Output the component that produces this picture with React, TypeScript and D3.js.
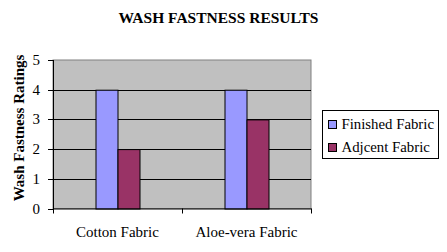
import React from "react";
import * as d3 from "d3";

const categories = ["Cotton Fabric", "Aloe-vera Fabric"];
const seriesNames = ["Finished Fabric", "Adjcent Fabric"];
const finishedValues = [4, 4];
const adjacentValues = [2, 3];
const yTicks = [0, 1, 2, 3, 4, 5];
const colors = ["#9999FF", "#993366"];

export default function App() {
  const W = 447, H = 252;
  const left = 53, right = 311, top = 60, bottom = 208.5;
  const x = d3.scaleBand<string>().domain(categories).range([left, right]);
  const y = d3.scaleLinear().domain([0, 5]).range([bottom, top]);
  const barW = 22;
  const series = [finishedValues, adjacentValues];
  const font = "'Liberation Serif', 'Times New Roman', serif";

  return (
    <div style={{ position: "absolute", left: 0, top: 0 }}>
      <svg width={W} height={H} style={{ display: "block", fontFamily: font }}>
        <rect x={0} y={0} width={W} height={H} fill="#fff" />
        <text x={218.5} y={23} textAnchor="middle" fontWeight="bold" fontSize={15.5}>
          WASH FASTNESS RESULTS
        </text>
        <rect x={left} y={top} width={right - left} height={bottom - top} fill="#C0C0C0" stroke="#808080" strokeWidth={1} />
        {yTicks.filter((t) => t > 0 && t < 5).map((t) => (
          <line key={t} x1={left} x2={right} y1={Math.round(y(t)) + 0.5} y2={Math.round(y(t)) + 0.5} stroke="#000" />
        ))}
        {series.map((vals, si) =>
          vals.map((v, ci) => {
            const cx = x(categories[ci])! + x.bandwidth() / 2;
            const bx = cx - barW + si * barW;
            return (
              <rect key={`${si}-${ci}`} x={bx + 0.5} y={y(v) + 0.5} width={barW} height={bottom - y(v)} fill={colors[si]} stroke="#000" strokeWidth={1} />
            );
          })
        )}
        <line x1={left + 0.5} x2={left + 0.5} y1={top} y2={bottom + 0.5} stroke="#000" />
        {yTicks.map((t) => (
          <g key={t}>
            <line x1={48} x2={left} y1={Math.round(y(t)) + 0.5} y2={Math.round(y(t)) + 0.5} stroke="#000" />
            <text x={40} y={y(t) + 5} textAnchor="end" fontSize={15}>{t}</text>
          </g>
        ))}
        <line x1={left} x2={right + 0.5} y1={bottom + 0.5} y2={bottom + 0.5} stroke="#000" />
        {[left, left + x.bandwidth(), right].map((tx, i) => (
          <line key={i} x1={Math.round(tx) + 0.5} x2={Math.round(tx) + 0.5} y1={bottom} y2={bottom + 5} stroke="#000" />
        ))}
        {categories.map((c) => (
          <text key={c} x={x(c)! + x.bandwidth() / 2} y={236.5} textAnchor="middle" fontSize={15}>{c}</text>
        ))}
        <text transform={`translate(24,128) rotate(-90)`} textAnchor="middle" fontWeight="bold" fontSize={15}>
          Wash Fastness Ratings
        </text>
        <rect x={322.5} y={110.5} width={116} height={48} fill="#fff" stroke="#000" />
        {seriesNames.map((n, i) => (
          <g key={n}>
            <rect x={328.5} y={120.5 + i * 23} width={8} height={8} fill={colors[i]} stroke="#000" />
            <text x={341.5} y={129 + i * 23} fontSize={14.8}>{n}</text>
          </g>
        ))}
      </svg>
    </div>
  );
}
